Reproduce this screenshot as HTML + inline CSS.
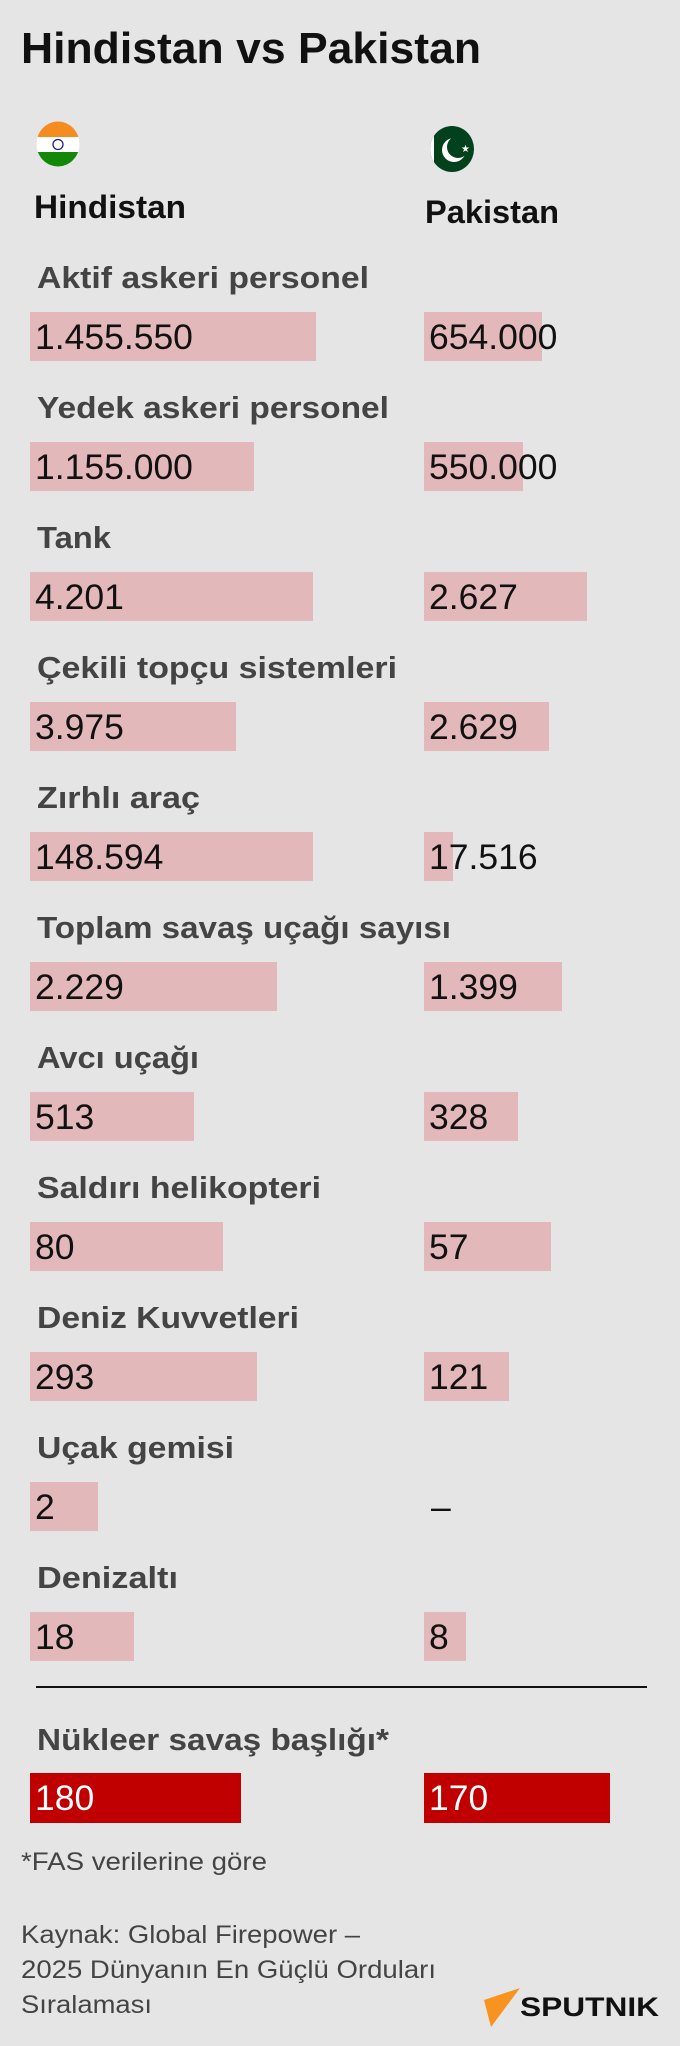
<!DOCTYPE html>
<html><head><meta charset="utf-8"><style>
html,body{margin:0;padding:0;background:#e5e5e5;}
svg{display:block;}
text{font-family:"Liberation Sans",sans-serif;}
.l{font-size:31px;font-weight:bold;fill:#444;}
.v{font-size:35.5px;fill:#111;}
</style></head><body>
<svg width="680" height="2046" viewBox="0 0 680 2046" xmlns="http://www.w3.org/2000/svg">
<rect width="680" height="2046" fill="#e5e5e5"/>
<text x="21" y="63" font-size="44" font-weight="bold" fill="#111" textLength="460" lengthAdjust="spacingAndGlyphs">Hindistan vs Pakistan</text>
<defs><clipPath id="ci"><ellipse cx="58" cy="144" rx="21.5" ry="22.5"/></clipPath>
<clipPath id="cp"><ellipse cx="452" cy="149" rx="22" ry="23"/></clipPath></defs>
<g clip-path="url(#ci)"><rect x="36" y="121" width="44" height="16" fill="#f68b1f"/><rect x="36" y="137" width="44" height="15" fill="#fff"/><rect x="36" y="152" width="44" height="16" fill="#138808"/><circle cx="58" cy="144.5" r="5" fill="none" stroke="#1a237e" stroke-width="1.3"/></g>
<g clip-path="url(#cp)"><rect x="429" y="126" width="48" height="47" fill="#01411c"/><rect x="429" y="126" width="5" height="47" fill="#fff"/><circle cx="454" cy="150" r="12" fill="#fff"/><circle cx="458" cy="147" r="11" fill="#01411c"/><text x="461" y="152" font-size="10" fill="#fff">★</text></g>
<text x="34" y="218" font-size="32" font-weight="bold" fill="#111" textLength="152" lengthAdjust="spacingAndGlyphs">Hindistan</text>
<text x="425" y="223" font-size="32" font-weight="bold" fill="#111" textLength="134" lengthAdjust="spacingAndGlyphs">Pakistan</text>

<g fill="#e3b8ba">
<rect x="30" y="312" width="286" height="49"/><rect x="424" y="312" width="118" height="49"/>
<rect x="30" y="442" width="224" height="49"/><rect x="424" y="442" width="99" height="49"/>
<rect x="30" y="572" width="283" height="49"/><rect x="424" y="572" width="163" height="49"/>
<rect x="30" y="702" width="206" height="49"/><rect x="424" y="702" width="125" height="49"/>
<rect x="30" y="832" width="283" height="49"/><rect x="424" y="832" width="29" height="49"/>
<rect x="30" y="962" width="247" height="49"/><rect x="424" y="962" width="138" height="49"/>
<rect x="30" y="1092" width="164" height="49"/><rect x="424" y="1092" width="94" height="49"/>
<rect x="30" y="1222" width="193" height="49"/><rect x="424" y="1222" width="127" height="49"/>
<rect x="30" y="1352" width="227" height="49"/><rect x="424" y="1352" width="85" height="49"/>
<rect x="30" y="1482" width="68" height="49"/>
<rect x="30" y="1612" width="104" height="49"/><rect x="424" y="1612" width="42" height="49"/>
</g>

<text class="l" x="37" y="288" textLength="332" lengthAdjust="spacingAndGlyphs">Aktif askeri personel</text>
<text class="l" x="37" y="418" textLength="352" lengthAdjust="spacingAndGlyphs">Yedek askeri personel</text>
<text class="l" x="37" y="548" textLength="74" lengthAdjust="spacingAndGlyphs">Tank</text>
<text class="l" x="37" y="678" textLength="360" lengthAdjust="spacingAndGlyphs">Çekili topçu sistemleri</text>
<text class="l" x="37" y="808" textLength="163" lengthAdjust="spacingAndGlyphs">Zırhlı araç</text>
<text class="l" x="37" y="938" textLength="414" lengthAdjust="spacingAndGlyphs">Toplam savaş uçağı sayısı</text>
<text class="l" x="37" y="1068" textLength="162" lengthAdjust="spacingAndGlyphs">Avcı uçağı</text>
<text class="l" x="37" y="1198" textLength="284" lengthAdjust="spacingAndGlyphs">Saldırı helikopteri</text>
<text class="l" x="37" y="1328" textLength="262" lengthAdjust="spacingAndGlyphs">Deniz Kuvvetleri</text>
<text class="l" x="37" y="1458" textLength="197" lengthAdjust="spacingAndGlyphs">Uçak gemisi</text>
<text class="l" x="37" y="1588" textLength="141" lengthAdjust="spacingAndGlyphs">Denizaltı</text>

<g>
<text class="v" x="35" y="349">1.455.550</text><text class="v" x="429" y="349">654.000</text>
<text class="v" x="35" y="479">1.155.000</text><text class="v" x="429" y="479">550.000</text>
<text class="v" x="35" y="609">4.201</text><text class="v" x="429" y="609">2.627</text>
<text class="v" x="35" y="739">3.975</text><text class="v" x="429" y="739">2.629</text>
<text class="v" x="35" y="869">148.594</text><text class="v" x="429" y="869">17.516</text>
<text class="v" x="35" y="999">2.229</text><text class="v" x="429" y="999">1.399</text>
<text class="v" x="35" y="1129">513</text><text class="v" x="429" y="1129">328</text>
<text class="v" x="35" y="1259">80</text><text class="v" x="429" y="1259">57</text>
<text class="v" x="35" y="1389">293</text><text class="v" x="429" y="1389">121</text>
<text class="v" x="35" y="1519">2</text><text class="v" x="431" y="1519">–</text>
<text class="v" x="35" y="1649">18</text><text class="v" x="429" y="1649">8</text>
</g>

<rect x="36" y="1686" width="611" height="2" fill="#111"/>
<text class="l" x="37" y="1750" textLength="352" lengthAdjust="spacingAndGlyphs">Nükleer savaş başlığı*</text>
<rect x="30" y="1773" width="211" height="50" fill="#c00000"/>
<rect x="424" y="1773" width="186" height="50" fill="#c00000"/>
<text x="35" y="1810" font-size="35.5" fill="#fff">180</text>
<text x="429" y="1810" font-size="35.5" fill="#fff">170</text>

<text x="21" y="1870" font-size="25" fill="#444" textLength="246" lengthAdjust="spacingAndGlyphs">*FAS verilerine göre</text>
<text x="21" y="1943" font-size="25" fill="#444" textLength="339" lengthAdjust="spacingAndGlyphs">Kaynak: Global Firepower –</text>
<text x="21" y="1978" font-size="25" fill="#444" textLength="415" lengthAdjust="spacingAndGlyphs">2025 Dünyanın En Güçlü Orduları</text>
<text x="21" y="2013" font-size="25" fill="#444" textLength="131" lengthAdjust="spacingAndGlyphs">Sıralaması</text>

<polygon points="484,2000 520,1988 491,2027" fill="#f7931e"/>
<text x="520" y="2016" font-size="27" font-weight="bold" fill="#111" textLength="139" lengthAdjust="spacingAndGlyphs">SPUTNIK</text>
</svg>
</body></html>
